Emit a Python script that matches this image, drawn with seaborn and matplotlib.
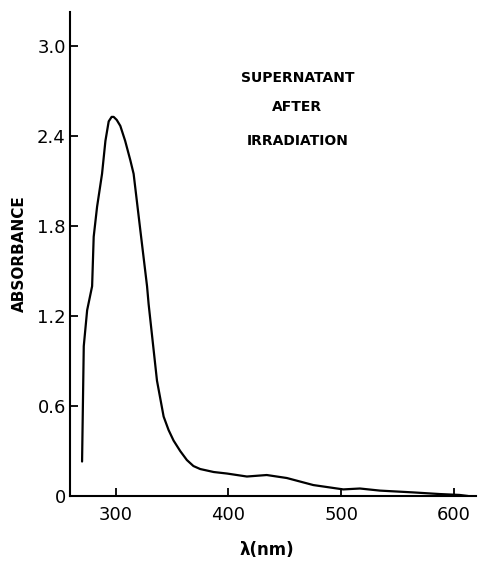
"""
UV-Vis absorbance of supernatant after irradiation
"""
import numpy as np
import pandas as pd
import matplotlib
matplotlib.use("Agg")
import matplotlib.pyplot as plt
import seaborn as sns

# Data
wavelength = [270.3, 271.8, 274.8, 279.2, 280.6, 283.6, 288.0, 291.0, 293.9, 296.5,
              298.3, 301.0, 304.2, 308.5, 313.1, 316.0, 322.0, 327.9, 329.3, 336.7,
              342.6, 347.0, 351.4, 357.3, 363.2, 369.0, 375.0, 387.0, 398.7, 416.4,
              434.0, 451.8, 475.3, 501.9, 516.6, 534.3, 563.8, 587.4, 605.0, 612.5]
absorbance = [0.23, 1.00, 1.24, 1.40, 1.73, 1.93, 2.15, 2.37, 2.50, 2.53,
              2.53, 2.51, 2.47, 2.37, 2.24, 2.15, 1.77, 1.40, 1.28, 0.77,
              0.53, 0.44, 0.37, 0.30, 0.24, 0.20, 0.18, 0.16, 0.15, 0.13,
              0.14, 0.12, 0.073, 0.044, 0.05, 0.036, 0.024, 0.013, 0.007, 0.0]

y_ticks = [0, 0.6, 1.2, 1.8, 2.4, 3.0]
y_tick_labels = ["0", "0.6", "1.2", "1.8", "2.4", "3.0"]
x_ticks = [300, 400, 500, 600]
annotation = ["SUPERNATANT", "AFTER", "IRRADIATION"]

df = pd.DataFrame({"wavelength": wavelength, "absorbance": absorbance})

sns.set_style("ticks")
plt.rcParams["font.family"] = ["DejaVu Sans"]
plt.rcParams["text.color"] = "black"
plt.rcParams["axes.labelcolor"] = "black"

fig = plt.figure(figsize=(4.78, 5.72), dpi=100)
ax = fig.add_axes([70 / 478, 1 - 496 / 572, 406 / 478, 484 / 572])

sns.lineplot(data=df, x="wavelength", y="absorbance", ax=ax,
             color="black", linewidth=1.6, sort=False)

ax.set_xlim(259.6, 619.5)
ax.set_ylim(0, 3.23)
ax.set_xticks(x_ticks)
ax.set_yticks(y_ticks)
ax.set_yticklabels(y_tick_labels)

for side in ["top", "right"]:
    ax.spines[side].set_visible(False)
for side in ["left", "bottom"]:
    ax.spines[side].set_linewidth(1.5)
    ax.spines[side].set_color("black")

ax.tick_params(axis="both", direction="in", length=6, width=1.3,
               labelsize=13, colors="black")
ax.tick_params(axis="y", pad=3)
ax.tick_params(axis="x", pad=7)

ax.set_xlabel("λ(nm)", fontsize=12, fontweight="bold")
ax.xaxis.set_label_coords(0.485, -0.092)
ax.set_ylabel("ABSORBANCE", fontsize=11, fontweight="bold", labelpad=7)

ax.text(0.56, 0.855, annotation[0], transform=ax.transAxes, ha="center",
        fontsize=10, fontweight="bold")
ax.text(0.56, 0.795, annotation[1], transform=ax.transAxes, ha="center",
        fontsize=10, fontweight="bold")
ax.text(0.56, 0.725, annotation[2], transform=ax.transAxes, ha="center",
        fontsize=10, fontweight="bold")

fig.savefig("out.png", dpi=100)
